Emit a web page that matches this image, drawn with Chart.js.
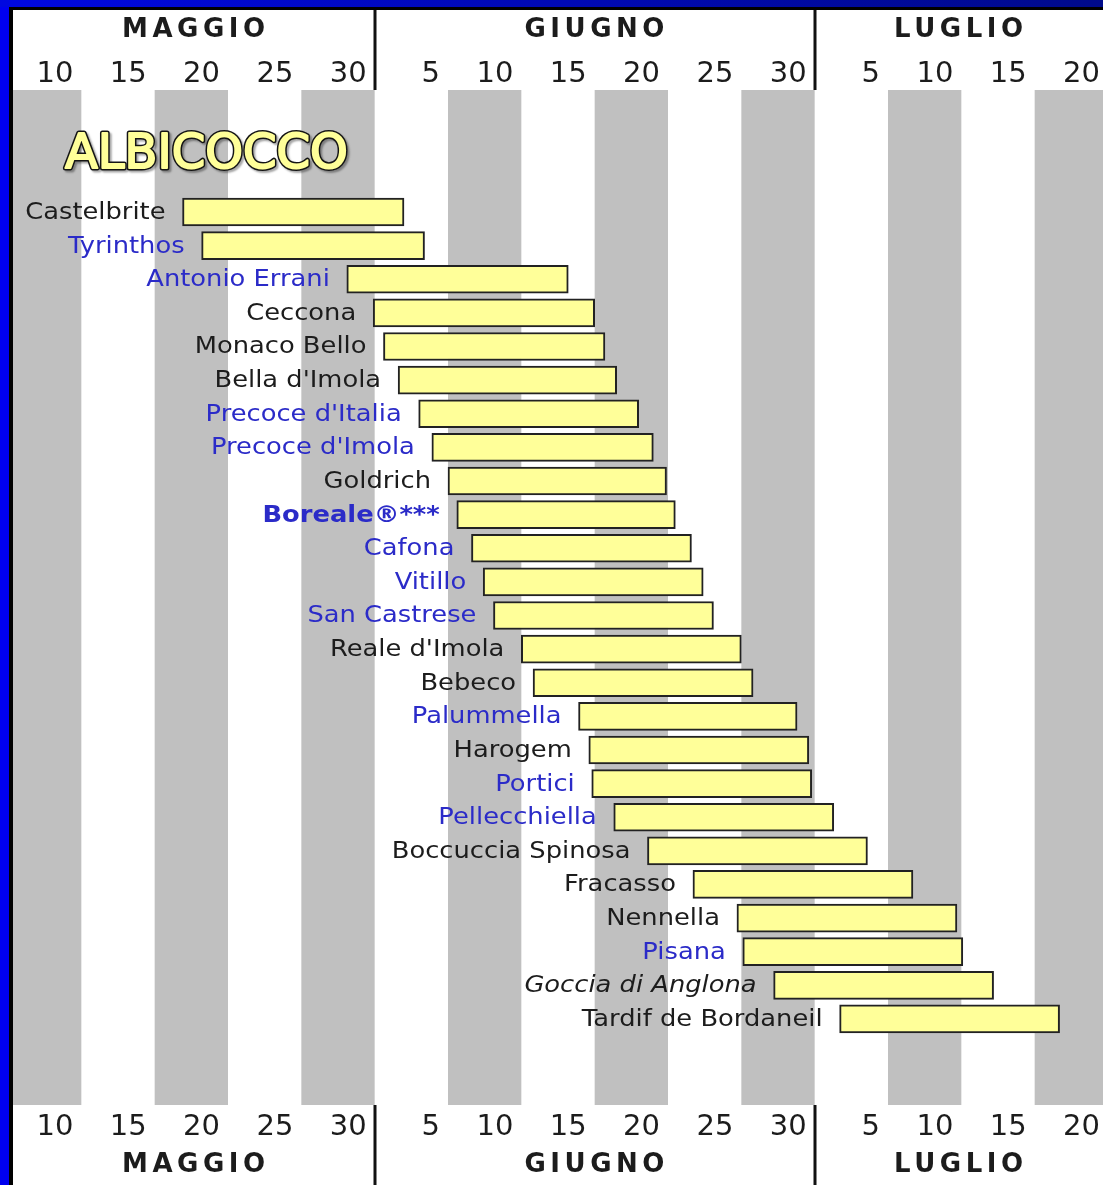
<!DOCTYPE html>
<html lang="it">
<head>
<meta charset="UTF-8">
<title>Albicocco - calendario di maturazione</title>
<script src="https://cdn.jsdelivr.net/npm/chart.js@4.4.1/dist/chart.umd.min.js"></script>
<style>
    html, body { margin: 0; padding: 0; background: #ffffff; }
    #wrap { position: relative; width: 1103px; height: 1185px; }
</style>
</head>
<body>
<div id="wrap"><canvas id="myChart"></canvas></div>
<script>
// Varietà, dall'alto verso il basso
const varieta = [
    'Castelbrite', 'Tyrinthos', 'Antonio Errani', 'Ceccona', 'Monaco Bello',
    "Bella d'Imola", "Precoce d'Italia", "Precoce d'Imola", 'Goldrich', 'Boreale®***',
    'Cafona', 'Vitillo', 'San Castrese', "Reale d'Imola", 'Bebeco',
    'Palummella', 'Harogem', 'Portici', 'Pellecchiella', 'Boccuccia Spinosa',
    'Fracasso', 'Nennella', 'Pisana', 'Goccia di Anglona', 'Tardif de Bordaneil'
];

// Periodo di raccolta in giorni dal 1° maggio (mesi da 30: giugno = 30 + g, luglio = 60 + g)
const inizio = [16.9, 18.2, 28.1, 29.9, 30.6, 31.6, 33.0, 33.9, 35.0, 35.6, 36.6, 37.4, 38.1,
                40.0, 40.8, 43.9, 44.6, 44.8, 46.3, 48.6, 51.7, 54.7, 55.1, 57.2, 61.7];
const fine = [32.0, 33.4, 43.2, 45.0, 45.7, 46.5, 48.0, 49.0, 49.9, 50.5, 51.6, 52.4, 53.1,
              55.0, 55.8, 58.8, 59.6, 59.8, 61.3, 63.6, 66.7, 69.7, 70.1, 72.2, 76.7];

// Tacche dell'asse dei giorni
const tickGiorni = [10, 15, 20, 25, 30, 35, 40, 45, 50, 55, 60, 65, 70, 75, 80];
const etichetteGiorni = ['10', '15', '20', '25', '30', '5', '10', '15', '20', '25', '30', '5', '10', '15', '20'];

// Mesi
const mesi = ['MAGGIO', 'GIUGNO', 'LUGLIO'];
const inizioMese = [0, 30, 60];
const fineMese = [30, 60, 90];

// Stile delle etichette
const BLU = new Set(['Tyrinthos', 'Antonio Errani', "Precoce d'Italia", "Precoce d'Imola", 'Boreale®***',
    'Cafona', 'Vitillo', 'San Castrese', 'Palummella', 'Portici', 'Pellecchiella', 'Pisana']);
const GRASSETTO = new Set(['Boreale®***']);
const CORSIVO = new Set(['Goccia di Anglona']);

const PX_GIORNO = 1100 / 75; // larghezza di un giorno
const X_MIN = 5 + 5 / PX_GIORNO;
const X_MAX = 80 - 5 / PX_GIORNO;
const FONT = '"DejaVu Sans", sans-serif';

// Sfondo bianco e bande grigie ogni 5 giorni
const sfondoPlugin = {
    id: 'sfondo',
    beforeDraw(chart) {
        const { ctx, width, height } = chart;
        ctx.save();
        ctx.fillStyle = '#ffffff';
        ctx.fillRect(0, 0, width, height);
        ctx.restore();
    },
    beforeDatasetsDraw(chart) {
        const { ctx, chartArea: a, scales: { x } } = chart;
        ctx.save();
        ctx.fillStyle = '#c0c0c0';
        for (let g = 5; g < 80; g += 10) {
            const x1 = Math.max(x.getPixelForValue(g), a.left);
            const x2 = Math.min(x.getPixelForValue(g + 5), a.right);
            ctx.fillRect(x1, a.top, x2 - x1, a.bottom - a.top);
        }
        ctx.restore();
    }
};

// Nomi delle varietà a sinistra di ogni barra (testo un po' allargato come nell'originale)
const etichettePlugin = {
    id: 'etichette',
    afterDatasetsDraw(chart) {
        const { ctx } = chart;
        const meta = chart.getDatasetMeta(0);
        ctx.save();
        ctx.textAlign = 'right';
        ctx.textBaseline = 'middle';
        meta.data.forEach((bar, i) => {
            const nome = varieta[i];
            const sinistra = Math.min(bar.x, bar.base);
            const stile = CORSIVO.has(nome) ? 'italic ' : '';
            const peso = GRASSETTO.has(nome) ? 'bold ' : '';
            ctx.font = stile + peso + '23px ' + FONT;
            ctx.fillStyle = BLU.has(nome) ? '#2b2bc8' : '#1c1c1c';
            ctx.save();
            ctx.translate(sinistra - 17, bar.y + 1);
            ctx.scale(1.12, 1);
            ctx.fillText(nome, 0, 0);
            ctx.restore();
        });
        ctx.restore();
    }
};

// Mesi, separatori, titolo e cornice
const cornicePlugin = {
    id: 'cornice',
    afterDraw(chart) {
        const { ctx, chartArea: a, scales: { x }, width, height } = chart;
        ctx.save();

        // nomi dei mesi
        ctx.font = 'bold 26px ' + FONT;
        ctx.letterSpacing = '4.5px';
        ctx.fillStyle = '#1c1c1c';
        ctx.textAlign = 'center';
        ctx.textBaseline = 'middle';
        mesi.forEach((m, i) => {
            const c = (x.getPixelForValue(Math.max(inizioMese[i], x.min)) +
                       x.getPixelForValue(Math.min(fineMese[i], x.max))) / 2;
            ctx.fillText(m, c + 2, a.top - 60);
            ctx.fillText(m, c + 2, a.bottom + 60);
        });
        ctx.letterSpacing = '0px';

        // separatori tra i mesi
        ctx.strokeStyle = '#111111';
        ctx.lineWidth = 3;
        for (let i = 1; i < mesi.length; i++) {
            const px = Math.round(x.getPixelForValue(inizioMese[i]));
            ctx.beginPath();
            ctx.moveTo(px, 10);
            ctx.lineTo(px, a.top);
            ctx.moveTo(px, a.bottom);
            ctx.lineTo(px, height);
            ctx.stroke();
        }

        // titolo
        ctx.font = '48px ' + FONT;
        ctx.textAlign = 'left';
        ctx.textBaseline = 'alphabetic';
        ctx.lineJoin = 'round';
        ctx.shadowColor = 'rgba(0,0,0,0.35)';
        ctx.shadowOffsetX = 2;
        ctx.shadowOffsetY = 2;
        ctx.shadowBlur = 2;
        ctx.lineWidth = 5;
        ctx.strokeStyle = '#141414';
        ctx.strokeText('ALBICOCCO', a.left + 52, a.top + 78);
        ctx.shadowColor = 'transparent';
        ctx.lineWidth = 2;
        ctx.strokeStyle = '#ffff99';
        ctx.strokeText('ALBICOCCO', a.left + 52, a.top + 78);
        ctx.fillStyle = '#ffff99';
        ctx.fillText('ALBICOCCO', a.left + 52, a.top + 78);

        // cornice blu e nera
        ctx.fillStyle = '#0000f0';
        ctx.fillRect(0, 0, 9, height);
        const grad = ctx.createLinearGradient(0, 0, width, 0);
        grad.addColorStop(0, '#0008e0');
        grad.addColorStop(1, '#000a8a');
        ctx.fillStyle = grad;
        ctx.fillRect(0, 0, width, 7);
        ctx.fillStyle = '#000000';
        ctx.fillRect(9, 7, 4, height - 7);
        ctx.fillRect(9, 7, width - 9, 3);

        ctx.restore();
    }
};

// Opzioni comuni per gli assi dei giorni
function asseGiorni(posizione, pad) {
    return {
        type: 'linear',
        position: posizione,
        min: X_MIN,
        max: X_MAX,
        offset: false,
        grid: { display: false, drawTicks: false },
        border: { display: false },
        afterBuildTicks: scale => {
            scale.ticks = tickGiorni.map(v => ({ value: v }));
        },
        afterFit: scale => {
            scale.height = 80;
            scale.paddingLeft = 0;
            scale.paddingRight = 0;
        },
        ticks: {
            autoSkip: false,
            maxRotation: 0,
            align: 'end',
            labelOffset: -8,
            padding: pad,
            color: '#1c1c1c',
            font: { family: FONT, size: 29 },
            callback: v => etichetteGiorni[tickGiorni.indexOf(v)]
        }
    };
}

const ctx = document.getElementById('myChart').getContext('2d');
new Chart(ctx, {
    type: 'bar',
    data: {
        datasets: [{
            label: 'Raccolta',
            data: varieta.map((v, i) => ({ x: [inizio[i], fine[i]], y: i })),
            backgroundColor: '#ffff99',
            borderColor: '#222222',
            borderWidth: 2,
            borderSkipped: false,
            barThickness: 28
        }]
    },
    options: {
        indexAxis: 'y',
        responsive: true,
        maintainAspectRatio: false,
        animation: false,
        layout: { padding: { top: 10, left: 13, right: 0, bottom: 0 } },
        scales: {
            x: asseGiorni('bottom', 5),
            xt: asseGiorni('top', -2),
            y: {
                type: 'linear',
                reverse: true,
                offset: false,
                min: -3.63,
                max: 26.56,
                display: false
            }
        },
        plugins: {
            legend: { display: false },
            tooltip: { enabled: false }
        }
    },
    plugins: [sfondoPlugin, etichettePlugin, cornicePlugin]
});
</script>
</body>
</html>
